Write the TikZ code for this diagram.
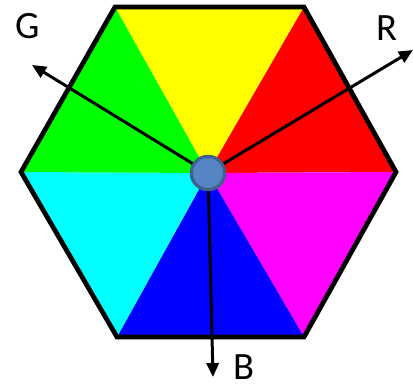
\documentclass[tikz,border=0pt]{standalone}
\usepackage{fontspec}
\setmainfont{Carlito}
\usetikzlibrary{arrows.meta,positioning}
\definecolor{hubfill}{HTML}{5585C2}
\definecolor{hubline}{HTML}{41608E}
\definecolor{segyellow}{HTML}{FFFF00}
\definecolor{segred}{HTML}{FF0000}
\definecolor{segmagenta}{HTML}{FF00FF}
\definecolor{segblue}{HTML}{0000FF}
\definecolor{segcyan}{HTML}{00FFFF}
\definecolor{seggreen}{HTML}{00FF00}
\tikzset{
  rim/.style={line width=2.7pt, line join=miter},
  ax/.style={-{Triangle[length=8pt,width=7pt]}, line width=1.7pt, draw=black, shorten <=2pt},
  hub/.style={circle, fill=hubfill, draw=hubline, line width=1.8pt, minimum size=19pt, inner sep=0pt},
  lbl/.style={font=\fontsize{22}{24}\selectfont, inner sep=0pt}
}

\begin{document}
\begin{tikzpicture}[x=0.02cm,y=-0.02cm]
  \useasboundingbox (0,0) rectangle (413,387);
  % corners of the hexagon
  \coordinate (c) at (208,173);
  \coordinate (vl) at (21,172);
  \coordinate (vtl) at (115,7);
  \coordinate (vtr) at (304,7);
  \coordinate (vr) at (396,172);
  \coordinate (vbr) at (304,337);
  \coordinate (vbl) at (117,337);

  % six coloured triangles
  \fill[segyellow] (c) -- (vtl) -- (vtr) -- cycle;
  \fill[segred] (c) -- (vtr) -- (vr) -- cycle;
  \fill[segmagenta] (c) -- (vr) -- (vbr) -- cycle;
  \fill[segblue] (c) -- (vbr) -- (vbl) -- cycle;
  \fill[segcyan] (c) -- (vbl) -- (vl) -- cycle;
  \fill[seggreen] (c) -- (vl) -- (vtl) -- cycle;
  \draw[rim] (vl) -- (vtl) -- (vtr) -- (vr) -- (vbr) -- (vbl) -- cycle;

  % axes
  \coordinate (gend) at (32,65);
  \coordinate (rend) at (413,50);
  \coordinate (bend) at (213,377);
  \draw[ax] (c) -- (gend);
  \draw[ax] (c) -- (rend);
  \draw[ax] (c) -- (bend);
  \node[hub] (origin) at (c) {};

  \node[lbl] (glbl) at (28,26) {G};
  \node[lbl] (rlbl) at (387,28) {R};
  \node[lbl] (blbl) at (244,367) {B};
\end{tikzpicture}
\end{document}
